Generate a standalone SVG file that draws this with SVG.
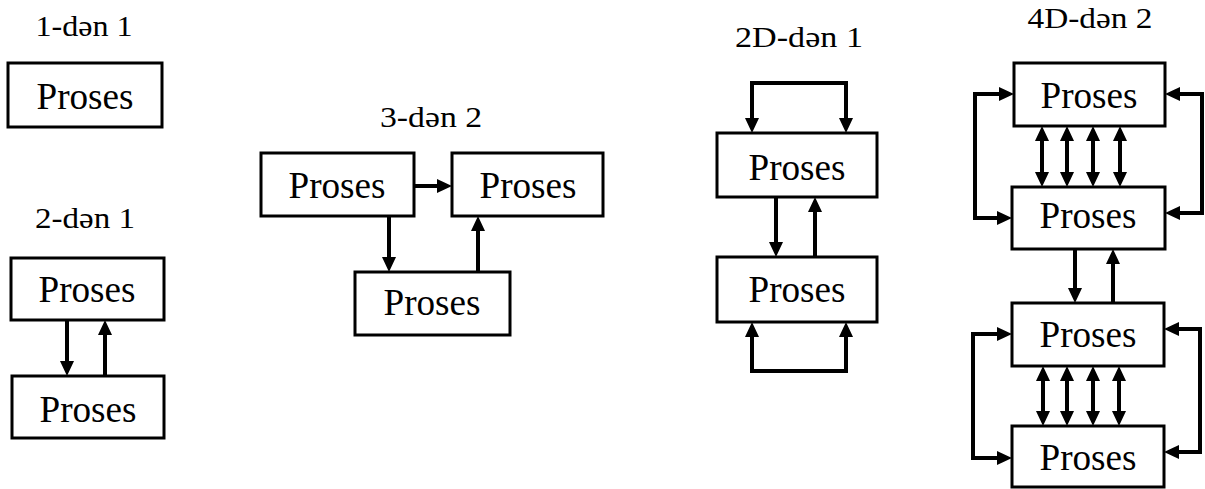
<svg xmlns="http://www.w3.org/2000/svg" width="1205" height="489" viewBox="0 0 1205 489">
<defs>
<style>
.box{fill:#fff;stroke:#000;stroke-width:3}
.t{font-family:'Liberation Serif','DejaVu Serif','Times New Roman',serif;font-size:38px;text-anchor:middle;fill:#000}
.lbl{font-family:'Liberation Serif','DejaVu Serif','Times New Roman',serif;font-size:29px;text-anchor:middle;fill:#000}
.a{fill:none;stroke:#000;stroke-width:4;marker-end:url(#ah)}
.d{fill:none;stroke:#000;stroke-width:4;marker-start:url(#ah);marker-end:url(#ah)}
</style>
<marker id="ah" markerUnits="userSpaceOnUse" markerWidth="15" markerHeight="14" viewBox="0 0 15 14" refX="1" refY="7" orient="auto-start-reverse">
<path d="M0,0 L15,7 L0,14 z" fill="#000"/>
</marker>
</defs>
<rect width="1205" height="489" fill="#fff"/>

<g id="connectors">
<path class="a" d="M67,320 V362"/>
<path class="a" d="M105,376 V334"/>
<path class="a" d="M414,186 H438"/>
<path class="a" d="M389,216 V258"/>
<path class="a" d="M478,272 V230"/>
<path class="d" d="M752,119 V83 H846 V119"/>
<path class="a" d="M776,197 V243"/>
<path class="a" d="M815,257 V211"/>
<path class="d" d="M752,336 V371 H846 V336"/>
<path class="d" d="M1000,94 H975 V218 H998"/>
<path class="d" d="M1179,213 H1202 V94 H1179"/>
<path class="d" d="M1042,140 V173"/>
<path class="d" d="M1067,140 V173"/>
<path class="d" d="M1093,140 V173"/>
<path class="d" d="M1120,140 V173"/>
<path class="a" d="M1075,249 V289"/>
<path class="a" d="M1113,303 V263"/>
<path class="d" d="M998,334 H973 V458 H998"/>
<path class="d" d="M1178,452 H1200 V329 H1178"/>
<path class="d" d="M1043,380 V412"/>
<path class="d" d="M1067,380 V412"/>
<path class="d" d="M1093,380 V412"/>
<path class="d" d="M1119,380 V412"/>
</g>

<g id="g1">
<text class="lbl" x="84" y="36" textLength="97" lengthAdjust="spacingAndGlyphs">1-dən 1</text>
<g id="n1"><rect class="box" x="8" y="63" width="154" height="64"/><text class="t" x="85" y="109" textLength="97" lengthAdjust="spacingAndGlyphs">Proses</text></g>
</g>

<g id="g2">
<text class="lbl" x="85" y="228" textLength="100" lengthAdjust="spacingAndGlyphs">2-dən 1</text>
<g id="n2a"><rect class="box" x="11" y="258" width="153" height="62"/><text class="t" x="87" y="302" textLength="97" lengthAdjust="spacingAndGlyphs">Proses</text></g>
<g id="n2b"><rect class="box" x="12" y="376" width="152" height="62"/><text class="t" x="88" y="422" textLength="97" lengthAdjust="spacingAndGlyphs">Proses</text></g>
</g>

<g id="g3">
<text class="lbl" x="431" y="127" textLength="102" lengthAdjust="spacingAndGlyphs">3-dən 2</text>
<g id="n3a"><rect class="box" x="261" y="153" width="153" height="63"/><text class="t" x="337" y="198" textLength="97" lengthAdjust="spacingAndGlyphs">Proses</text></g>
<g id="n3b"><rect class="box" x="452" y="153" width="151" height="63"/><text class="t" x="528" y="198" textLength="97" lengthAdjust="spacingAndGlyphs">Proses</text></g>
<g id="n3c"><rect class="box" x="355" y="272" width="155" height="63"/><text class="t" x="432" y="315" textLength="97" lengthAdjust="spacingAndGlyphs">Proses</text></g>
</g>

<g id="g4">
<text class="lbl" x="799" y="47" textLength="128" lengthAdjust="spacingAndGlyphs">2D-dən 1</text>
<g id="n4a"><rect class="box" x="717" y="133" width="160" height="64"/><text class="t" x="797" y="180" textLength="97" lengthAdjust="spacingAndGlyphs">Proses</text></g>
<g id="n4b"><rect class="box" x="717" y="257" width="160" height="65"/><text class="t" x="797" y="302" textLength="97" lengthAdjust="spacingAndGlyphs">Proses</text></g>
</g>

<g id="g5">
<text class="lbl" x="1090" y="28" textLength="125" lengthAdjust="spacingAndGlyphs">4D-dən 2</text>
<g id="n5a"><rect class="box" x="1014" y="63" width="151" height="63"/><text class="t" x="1089" y="108" textLength="97" lengthAdjust="spacingAndGlyphs">Proses</text></g>
<g id="n5b"><rect class="box" x="1012" y="187" width="153" height="62"/><text class="t" x="1088" y="228" textLength="97" lengthAdjust="spacingAndGlyphs">Proses</text></g>
<g id="n5c"><rect class="box" x="1012" y="303" width="152" height="63"/><text class="t" x="1088" y="347" textLength="97" lengthAdjust="spacingAndGlyphs">Proses</text></g>
<g id="n5d"><rect class="box" x="1012" y="426" width="152" height="61"/><text class="t" x="1088" y="470" textLength="97" lengthAdjust="spacingAndGlyphs">Proses</text></g>
</g>
</svg>
